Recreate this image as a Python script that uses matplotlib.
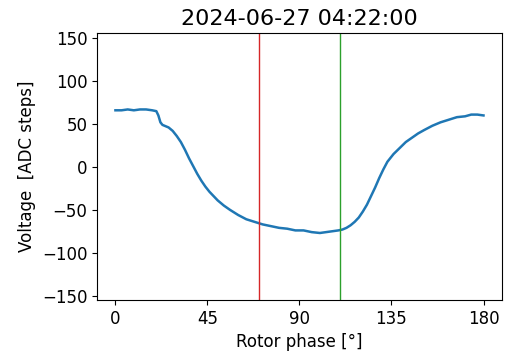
import matplotlib
matplotlib.use("Agg")
import matplotlib.pyplot as plt

# Rotor phase (degrees) and measured voltage (ADC steps)
phase = [0, 3, 6, 9, 12, 15, 18, 20, 21, 22, 23, 24, 26, 28, 30, 32, 34, 36, 38,
         40, 42, 44, 46, 48, 50, 53, 56, 60, 64, 68, 72, 76, 80, 84, 88, 92, 96,
         100, 103, 106, 109, 111, 113, 115, 117, 119, 121, 123, 125, 127, 129,
         131, 133, 136, 139, 142, 145, 148, 151, 155, 159, 163, 167, 171, 174,
         177, 180]
voltage = [66, 66, 67, 66, 67, 67, 66, 65, 60, 52, 49, 48, 46, 42, 36, 29, 20,
           10, 1, -8, -16, -23, -29, -34, -39, -45, -50, -56, -61, -64, -67,
           -69, -71, -72, -74, -74, -76, -77, -76, -75, -74, -73, -71, -68,
           -64, -59, -52, -44, -34, -24, -13, -3, 6, 15, 22, 29, 34, 39, 43,
           48, 52, 55, 58, 59, 61, 61, 60]

red_marker = 70
green_marker = 110

fig, ax = plt.subplots(figsize=(5.08, 3.52), dpi=100)
fig.subplots_adjust(left=0.191, right=0.988, top=0.906, bottom=0.148)

ax.plot(phase, voltage, color="#1f77b4", lw=1.8)
ax.axvline(red_marker, color="#d62728", lw=1.0)
ax.axvline(green_marker, color="#2ca02c", lw=1.0)

ax.set_ylim(-155, 156)
ax.set_xticks([0, 45, 90, 135, 180])
ax.set_yticks([-150, -100, -50, 0, 50, 100, 150])
ax.tick_params(labelsize=12)
ax.set_xlabel("Rotor phase [°]", fontsize=12)
ax.set_ylabel("Voltage  [ADC steps]", fontsize=12)
ax.set_title("2024-06-27 04:22:00", fontsize=16)

fig.savefig("out.png", dpi=100)
